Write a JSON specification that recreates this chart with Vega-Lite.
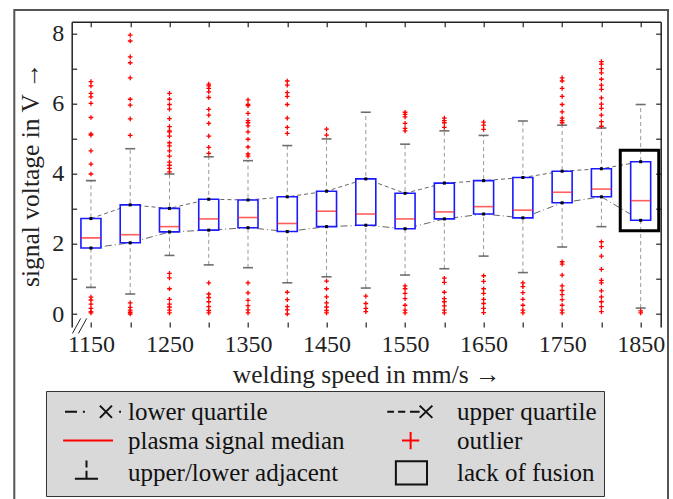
{
  "$schema": "https://vega.github.io/schema/vega-lite/v6.json",
  "width": 589,
  "height": 305.3,
  "autosize": {"type": "none"},
  "padding": {"left": 71.7, "top": 21.7, "right": 12.3, "bottom": 172},
  "background": "white",
  "config": {
    "font": "Liberation Serif",
    "view": {"stroke": null},
    "axis": {
      "grid": false,
      "labelFont": "Liberation Serif",
      "labelFontSize": 24,
      "labelColor": "#222",
      "titleFont": "Liberation Serif",
      "titleFontSize": 25.5,
      "titleFontWeight": "normal",
      "titleColor": "#222",
      "tickColor": "#222",
      "domainColor": "#222",
      "domainWidth": 1.5,
      "tickSize": -5,
      "tickWidth": 1.2,
      "labelOverlap": false,
      "labelFlush": false,
      "labelBound": false
    }
  },
  "datasets": {
    "boxes": [
      {"speed": 1150, "lo": 0.76, "q1": 1.88, "median": 2.17, "q3": 2.72, "hi": 3.80},
      {"speed": 1200, "lo": 0.57, "q1": 2.03, "median": 2.26, "q3": 3.11, "hi": 4.71},
      {"speed": 1250, "lo": 1.67, "q1": 2.34, "median": 2.49, "q3": 3.01, "hi": 3.99},
      {"speed": 1300, "lo": 1.40, "q1": 2.39, "median": 2.71, "q3": 3.27, "hi": 4.48},
      {"speed": 1350, "lo": 1.32, "q1": 2.46, "median": 2.75, "q3": 3.25, "hi": 4.37},
      {"speed": 1400, "lo": 0.89, "q1": 2.35, "median": 2.58, "q3": 3.34, "hi": 4.80},
      {"speed": 1450, "lo": 1.06, "q1": 2.49, "median": 2.93, "q3": 3.50, "hi": 4.99},
      {"speed": 1500, "lo": 0.74, "q1": 2.53, "median": 2.85, "q3": 3.85, "hi": 5.75},
      {"speed": 1550, "lo": 1.11, "q1": 2.43, "median": 2.71, "q3": 3.44, "hi": 4.84},
      {"speed": 1600, "lo": 1.29, "q1": 2.71, "median": 2.91, "q3": 3.73, "hi": 5.22},
      {"speed": 1650, "lo": 1.65, "q1": 2.85, "median": 3.06, "q3": 3.80, "hi": 5.09},
      {"speed": 1700, "lo": 1.18, "q1": 2.74, "median": 2.96, "q3": 3.89, "hi": 5.50},
      {"speed": 1750, "lo": 1.91, "q1": 3.17, "median": 3.47, "q3": 4.07, "hi": 5.38},
      {"speed": 1800, "lo": 2.49, "q1": 3.34, "median": 3.56, "q3": 4.14, "hi": 5.30},
      {"speed": 1850, "lo": 0.17, "q1": 2.67, "median": 3.23, "q3": 4.34, "hi": 5.97}
    ],
    "outliers": [
      {"speed": 1150, "v": 6.62}, {"speed": 1150, "v": 6.50}, {"speed": 1150, "v": 6.29}, {"speed": 1150, "v": 6.19}, {"speed": 1150, "v": 6.00}, {"speed": 1150, "v": 5.60}, {"speed": 1150, "v": 5.13}, {"speed": 1150, "v": 5.10}, {"speed": 1150, "v": 4.65}, {"speed": 1150, "v": 4.27}, {"speed": 1150, "v": 3.99}, {"speed": 1150, "v": 0.48}, {"speed": 1150, "v": 0.40}, {"speed": 1150, "v": 0.28}, {"speed": 1150, "v": 0.16}, {"speed": 1150, "v": 0.07}, {"speed": 1150, "v": 0.03},
      {"speed": 1200, "v": 7.95}, {"speed": 1200, "v": 7.78}, {"speed": 1200, "v": 7.33}, {"speed": 1200, "v": 7.16}, {"speed": 1200, "v": 6.73}, {"speed": 1200, "v": 6.12}, {"speed": 1200, "v": 5.95}, {"speed": 1200, "v": 5.56}, {"speed": 1200, "v": 5.09}, {"speed": 1200, "v": 0.32}, {"speed": 1200, "v": 0.19}, {"speed": 1200, "v": 0.11}, {"speed": 1200, "v": 0.05}, {"speed": 1200, "v": 0.0},
      {"speed": 1250, "v": 6.29}, {"speed": 1250, "v": 6.12}, {"speed": 1250, "v": 5.97}, {"speed": 1250, "v": 5.84}, {"speed": 1250, "v": 5.57}, {"speed": 1250, "v": 5.34}, {"speed": 1250, "v": 5.22}, {"speed": 1250, "v": 5.19}, {"speed": 1250, "v": 5.07}, {"speed": 1250, "v": 4.88}, {"speed": 1250, "v": 4.79}, {"speed": 1250, "v": 4.65}, {"speed": 1250, "v": 4.50}, {"speed": 1250, "v": 4.33}, {"speed": 1250, "v": 4.24}, {"speed": 1250, "v": 4.15}, {"speed": 1250, "v": 4.05}, {"speed": 1250, "v": 1.16}, {"speed": 1250, "v": 1.03}, {"speed": 1250, "v": 0.72}, {"speed": 1250, "v": 0.42}, {"speed": 1250, "v": 0.28}, {"speed": 1250, "v": 0.20}, {"speed": 1250, "v": 0.11}, {"speed": 1250, "v": 0.03},
      {"speed": 1300, "v": 6.55}, {"speed": 1300, "v": 6.50}, {"speed": 1300, "v": 6.43}, {"speed": 1300, "v": 6.33}, {"speed": 1300, "v": 6.17}, {"speed": 1300, "v": 5.83}, {"speed": 1300, "v": 5.67}, {"speed": 1300, "v": 5.43}, {"speed": 1300, "v": 5.07}, {"speed": 1300, "v": 4.75}, {"speed": 1300, "v": 4.58}, {"speed": 1300, "v": 0.89}, {"speed": 1300, "v": 0.57}, {"speed": 1300, "v": 0.47}, {"speed": 1300, "v": 0.35}, {"speed": 1300, "v": 0.21}, {"speed": 1300, "v": 0.10}, {"speed": 1300, "v": 0.03},
      {"speed": 1350, "v": 6.10}, {"speed": 1350, "v": 5.97}, {"speed": 1350, "v": 5.94}, {"speed": 1350, "v": 5.72}, {"speed": 1350, "v": 5.51}, {"speed": 1350, "v": 5.45}, {"speed": 1350, "v": 5.36}, {"speed": 1350, "v": 5.19}, {"speed": 1350, "v": 4.98}, {"speed": 1350, "v": 4.76}, {"speed": 1350, "v": 4.56}, {"speed": 1350, "v": 4.50}, {"speed": 1350, "v": 0.89}, {"speed": 1350, "v": 0.60}, {"speed": 1350, "v": 0.39}, {"speed": 1350, "v": 0.24}, {"speed": 1350, "v": 0.12}, {"speed": 1350, "v": 0.03},
      {"speed": 1400, "v": 6.64}, {"speed": 1400, "v": 6.52}, {"speed": 1400, "v": 6.31}, {"speed": 1400, "v": 6.20}, {"speed": 1400, "v": 5.97}, {"speed": 1400, "v": 5.58}, {"speed": 1400, "v": 5.32}, {"speed": 1400, "v": 5.15}, {"speed": 1400, "v": 0.62}, {"speed": 1400, "v": 0.41}, {"speed": 1400, "v": 0.21}, {"speed": 1400, "v": 0.12}, {"speed": 1400, "v": 0.0},
      {"speed": 1450, "v": 5.27}, {"speed": 1450, "v": 5.10}, {"speed": 1450, "v": 0.94}, {"speed": 1450, "v": 0.72}, {"speed": 1450, "v": 0.49}, {"speed": 1450, "v": 0.32}, {"speed": 1450, "v": 0.20}, {"speed": 1450, "v": 0.10}, {"speed": 1450, "v": 0.03},
      {"speed": 1500, "v": 0.51}, {"speed": 1500, "v": 0.30}, {"speed": 1500, "v": 0.16}, {"speed": 1500, "v": 0.07},
      {"speed": 1550, "v": 5.75}, {"speed": 1550, "v": 5.69}, {"speed": 1550, "v": 5.62}, {"speed": 1550, "v": 5.43}, {"speed": 1550, "v": 5.29}, {"speed": 1550, "v": 5.22}, {"speed": 1550, "v": 0.80}, {"speed": 1550, "v": 0.72}, {"speed": 1550, "v": 0.59}, {"speed": 1550, "v": 0.44}, {"speed": 1550, "v": 0.25}, {"speed": 1550, "v": 0.11}, {"speed": 1550, "v": 0.03},
      {"speed": 1600, "v": 5.58}, {"speed": 1600, "v": 5.51}, {"speed": 1600, "v": 5.45}, {"speed": 1600, "v": 5.32}, {"speed": 1600, "v": 1.02}, {"speed": 1600, "v": 0.90}, {"speed": 1600, "v": 0.62}, {"speed": 1600, "v": 0.44}, {"speed": 1600, "v": 0.35}, {"speed": 1600, "v": 0.23}, {"speed": 1600, "v": 0.11}, {"speed": 1600, "v": 0.03},
      {"speed": 1650, "v": 5.47}, {"speed": 1650, "v": 5.38}, {"speed": 1650, "v": 5.26}, {"speed": 1650, "v": 1.09}, {"speed": 1650, "v": 0.93}, {"speed": 1650, "v": 0.72}, {"speed": 1650, "v": 0.59}, {"speed": 1650, "v": 0.42}, {"speed": 1650, "v": 0.30}, {"speed": 1650, "v": 0.16}, {"speed": 1650, "v": 0.04},
      {"speed": 1700, "v": 0.89}, {"speed": 1700, "v": 0.78}, {"speed": 1700, "v": 0.61}, {"speed": 1700, "v": 0.42}, {"speed": 1700, "v": 0.25}, {"speed": 1700, "v": 0.11}, {"speed": 1700, "v": 0.03},
      {"speed": 1750, "v": 6.73}, {"speed": 1750, "v": 6.64}, {"speed": 1750, "v": 6.43}, {"speed": 1750, "v": 6.20}, {"speed": 1750, "v": 5.97}, {"speed": 1750, "v": 5.76}, {"speed": 1750, "v": 5.58}, {"speed": 1750, "v": 5.51}, {"speed": 1750, "v": 5.45}, {"speed": 1750, "v": 1.49}, {"speed": 1750, "v": 1.42}, {"speed": 1750, "v": 1.11}, {"speed": 1750, "v": 0.80}, {"speed": 1750, "v": 0.67}, {"speed": 1750, "v": 0.55}, {"speed": 1750, "v": 0.41}, {"speed": 1750, "v": 0.25}, {"speed": 1750, "v": 0.11}, {"speed": 1750, "v": 0.03},
      {"speed": 1800, "v": 7.19}, {"speed": 1800, "v": 7.12}, {"speed": 1800, "v": 6.99}, {"speed": 1800, "v": 6.87}, {"speed": 1800, "v": 6.69}, {"speed": 1800, "v": 6.52}, {"speed": 1800, "v": 6.40}, {"speed": 1800, "v": 6.16}, {"speed": 1800, "v": 5.98}, {"speed": 1800, "v": 5.86}, {"speed": 1800, "v": 5.67}, {"speed": 1800, "v": 5.48}, {"speed": 1800, "v": 5.35}, {"speed": 1800, "v": 2.06}, {"speed": 1800, "v": 1.92}, {"speed": 1800, "v": 1.65}, {"speed": 1800, "v": 1.27}, {"speed": 1800, "v": 0.96}, {"speed": 1800, "v": 0.89}, {"speed": 1800, "v": 0.66}, {"speed": 1800, "v": 0.49}, {"speed": 1800, "v": 0.35}, {"speed": 1800, "v": 0.21}, {"speed": 1800, "v": 0.07},
      {"speed": 1850, "v": 0.09}, {"speed": 1850, "v": 0.03}
    ],
    "fusion": [{"from": 1824, "to": 1873, "low": 2.37, "high": 4.67}],
    "frame": [{"from": 1052.4, "to": 1884.8, "low": -5.6, "high": 8.66}],
    "axisbreak": [{"speed": 1136, "v": -0.34}],
    "legend": [
      {"kind": "lower quartile"},
      {"kind": "upper quartile"},
      {"kind": "plasma signal median"},
      {"kind": "outlier"},
      {"kind": "upper/lower adjacent"},
      {"kind": "lack of fusion"}
    ]
  },
  "resolve": {"axis": {"x": "independent", "y": "independent"}},
  "layer": [
    {
      "data": {"name": "frame"},
      "mark": {"type": "rect", "fill": null, "stroke": "#555", "strokeWidth": 2, "clip": false},
      "encoding": {
        "x": {"field": "from", "type": "quantitative", "scale": {"domain": [1125.5, 1875.5], "nice": false, "zero": false, "padding": 0}, "axis": null},
        "x2": {"field": "to"},
        "y": {"field": "low", "type": "quantitative", "scale": {"domain": [-0.37, 8.33], "nice": false, "zero": false, "padding": 0}, "axis": null},
        "y2": {"field": "high"}
      }
    },
    {
      "data": {"name": "boxes"},
      "mark": {"type": "rule", "stroke": "#9a9a9a", "strokeDash": [4, 3], "strokeWidth": 1},
      "encoding": {
        "x": {"field": "speed", "type": "quantitative", "scale": {"domain": [1125.5, 1875.5], "nice": false, "zero": false, "padding": 0},
          "axis": {"orient": "bottom", "values": [1150, 1200, 1250, 1300, 1350, 1400, 1450, 1500, 1550, 1600, 1650, 1700, 1750, 1800, 1850], "format": "d",
            "labelExpr": "(datum.value - 1150) % 100 === 0 ? datum.label : ''", "domain": false, "labelPadding": 10,
            "labelFont": "Liberation Serif", "labelFontSize": 24, "titleFont": "Liberation Serif", "titleFontSize": 25.5,
            "title": "welding speed in mm/s →", "titlePadding": 6}},
        "y": {"field": "lo", "type": "quantitative", "scale": {"domain": [-0.37, 8.33], "nice": false, "zero": false, "padding": 0},
          "axis": {"orient": "left", "values": [0, 1, 2, 3, 4, 5, 6, 7, 8],
            "labelExpr": "datum.value % 2 === 0 ? datum.label : ''", "labelPadding": 13,
            "labelFont": "Liberation Serif", "labelFontSize": 24, "titleFont": "Liberation Serif", "titleFontSize": 25.5,
            "title": "signal voltage in V →", "titlePadding": 8}},
        "y2": {"field": "hi"}
      }
    },
    {
      "data": {"name": "boxes"},
      "mark": {"type": "line", "stroke": "#666", "strokeDash": [4, 3], "strokeWidth": 1},
      "encoding": {
        "x": {"field": "speed", "type": "quantitative", "axis": null},
        "y": {"field": "q3", "type": "quantitative", "axis": null}
      }
    },
    {
      "data": {"name": "boxes"},
      "mark": {"type": "line", "stroke": "#666", "strokeDash": [7, 3, 1, 3], "strokeWidth": 1},
      "encoding": {
        "x": {"field": "speed", "type": "quantitative", "axis": null},
        "y": {"field": "q1", "type": "quantitative", "axis": null}
      }
    },
    {
      "data": {"name": "boxes"},
      "mark": {"type": "bar", "width": 20, "fill": "white", "stroke": "#1a1aff", "strokeWidth": 1.6},
      "encoding": {
        "x": {"field": "speed", "type": "quantitative", "axis": null},
        "y": {"field": "q1", "type": "quantitative", "axis": null},
        "y2": {"field": "q3"}
      }
    },
    {
      "data": {"name": "boxes"},
      "mark": {"type": "tick", "orient": "horizontal", "size": 20, "thickness": 1.6, "color": "#ff1a1a"},
      "encoding": {
        "x": {"field": "speed", "type": "quantitative", "axis": null},
        "y": {"field": "median", "type": "quantitative", "axis": null}
      }
    },
    {
      "data": {"name": "boxes"},
      "mark": {"type": "tick", "orient": "horizontal", "size": 10, "thickness": 1.6, "color": "#333"},
      "encoding": {
        "x": {"field": "speed", "type": "quantitative",
          "axis": {"orient": "top", "values": [1150, 1200, 1250, 1300, 1350, 1400, 1450, 1500, 1550, 1600, 1650, 1700, 1750, 1800, 1850], "labels": false, "title": null, "domain": true}},
        "y": {"field": "hi", "type": "quantitative",
          "axis": {"orient": "right", "values": [0, 1, 2, 3, 4, 5, 6, 7, 8], "labels": false, "title": null, "domain": true}}
      }
    },
    {
      "data": {"name": "boxes"},
      "mark": {"type": "tick", "orient": "horizontal", "size": 10, "thickness": 1.6, "color": "#333"},
      "encoding": {
        "x": {"field": "speed", "type": "quantitative", "axis": null},
        "y": {"field": "lo", "type": "quantitative", "axis": null}
      }
    },
    {
      "data": {"name": "boxes"},
      "mark": {"type": "point", "shape": "square", "size": 9, "filled": true, "color": "black", "opacity": 1},
      "encoding": {
        "x": {"field": "speed", "type": "quantitative", "axis": null},
        "y": {"field": "q3", "type": "quantitative", "axis": null}
      }
    },
    {
      "data": {"name": "boxes"},
      "mark": {"type": "point", "shape": "square", "size": 9, "filled": true, "color": "black", "opacity": 1},
      "encoding": {
        "x": {"field": "speed", "type": "quantitative", "axis": null},
        "y": {"field": "q1", "type": "quantitative", "axis": null}
      }
    },
    {
      "data": {"name": "outliers"},
      "mark": {"type": "point", "shape": "M-1,0H1M0,-1V1", "size": 22, "filled": false, "stroke": "#ff0000", "strokeWidth": 1.3, "opacity": 1},
      "encoding": {
        "x": {"field": "speed", "type": "quantitative", "axis": null},
        "y": {"field": "v", "type": "quantitative", "axis": null}
      }
    },
    {
      "data": {"name": "fusion"},
      "mark": {"type": "rect", "fill": null, "stroke": "black", "strokeWidth": 3},
      "encoding": {
        "x": {"field": "from", "type": "quantitative", "axis": null},
        "x2": {"field": "to"},
        "y": {"field": "low", "type": "quantitative", "axis": null},
        "y2": {"field": "high"}
      }
    },
    {
      "data": {"name": "axisbreak"},
      "mark": {"type": "point", "shape": "M-1,1L0.1,-1M-0.2,1L0.9,-1", "size": 225, "filled": false, "stroke": "#222", "strokeWidth": 1, "opacity": 1},
      "encoding": {
        "x": {"field": "speed", "type": "quantitative", "axis": null},
        "y": {"field": "v", "type": "quantitative", "axis": null}
      }
    },
    {
      "data": {"name": "legend"},
      "mark": {"type": "point", "filled": false, "opacity": 0},
      "encoding": {
        "shape": {"field": "kind", "type": "nominal",
          "scale": {"domain": ["lower quartile", "plasma signal median", "upper/lower adjacent", "upper quartile", "outlier", "lack of fusion"],
            "range": [
              "M-1.92,0H-0.96M-0.49,0H-0.33M0.87,-0.49L1.84,0.49M0.87,0.49L1.84,-0.49M2.41,0H2.56",
              "M-2.07,0H1.92",
              "M-1.13,0.49H0.72M-0.2,0.49V-0.15M-0.2,-0.41V-0.97",
              "M-2.46,0H-1.92M-1.59,0H-1.02M-0.64,0H0.13M0.13,-0.49L1.15,0.49M0.13,0.49L1.15,-0.49",
              "M-1.28,0H0.1M-0.59,-0.69V0.69",
              "M-1.77,-0.9H0.72V0.96H-1.77Z"
            ]},
          "legend": {"title": null, "orient": "none", "legendX": -25.7, "legendY": 369.3, "columns": 2, "columnPadding": 37, "rowPadding": 2,
            "fillColor": "#d9d9d9", "strokeColor": "#333", "padding": 7, "labelFont": "Liberation Serif", "labelFontSize": 25, "labelColor": "#111",
            "labelLimit": 400, "symbolSize": 625, "symbolStrokeWidth": 2, "symbolOffset": 22.5, "labelOffset": 25.5, "symbolOpacity": 1}},
        "color": {"field": "kind", "type": "nominal",
          "scale": {"domain": ["lower quartile", "plasma signal median", "upper/lower adjacent", "upper quartile", "outlier", "lack of fusion"],
            "range": ["#111", "#ff0000", "#111", "#111", "#ff0000", "#111"]},
          "legend": {"title": null, "orient": "none", "legendX": -25.7, "legendY": 369.3, "columns": 2, "columnPadding": 37, "rowPadding": 2,
            "fillColor": "#d9d9d9", "strokeColor": "#333", "padding": 7, "labelFont": "Liberation Serif", "labelFontSize": 25, "labelColor": "#111",
            "labelLimit": 400, "symbolSize": 625, "symbolStrokeWidth": 2, "symbolOffset": 22.5, "labelOffset": 25.5, "symbolOpacity": 1}}
      }
    }
  ]
}
